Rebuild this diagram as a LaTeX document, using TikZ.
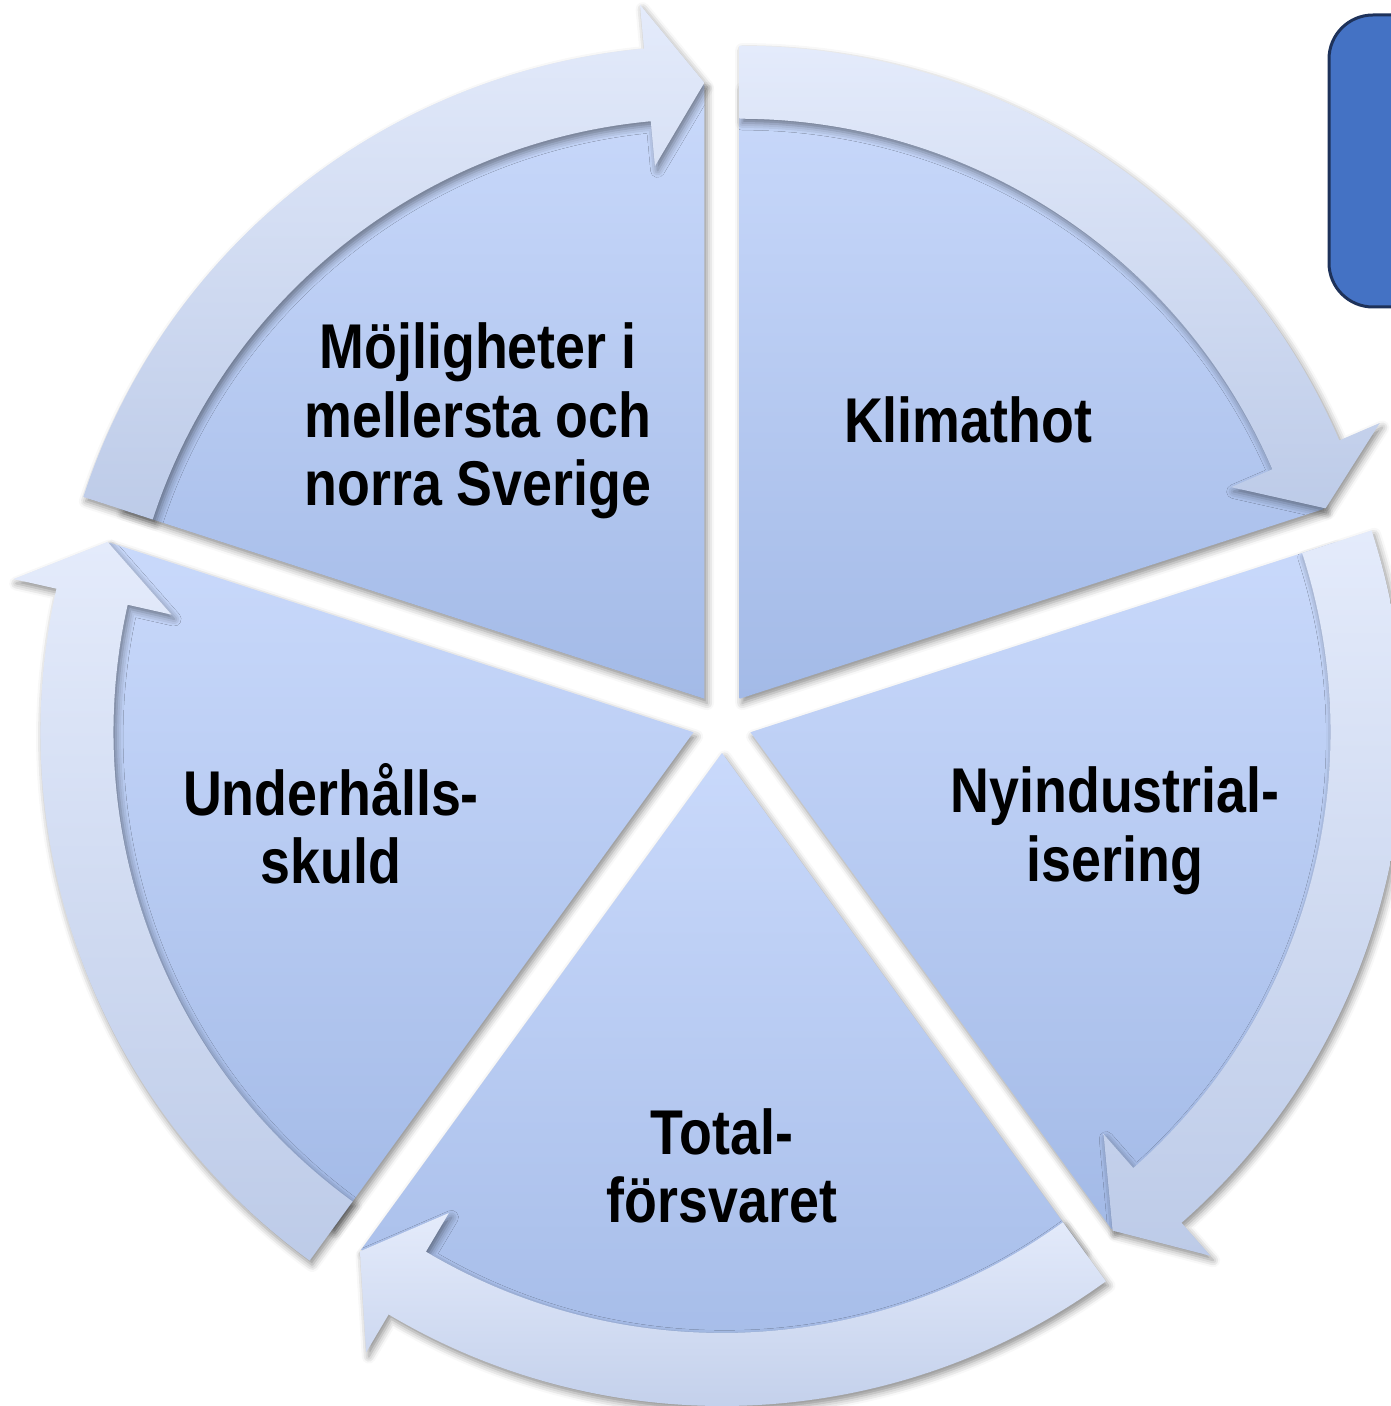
\documentclass[tikz,border=0pt]{standalone}
\usepackage{fontspec}
\setmainfont{Liberation Sans}[FakeStretch=0.85]
\usepackage{tikz}
\usepackage{xcolor}
\usetikzlibrary{shadows.blur}
\definecolor{PieTop}{RGB}{201,217,251}
\definecolor{PieBottom}{RGB}{163,186,231}
\definecolor{ArrowTop}{RGB}{228,235,251}
\definecolor{ArrowBottom}{RGB}{189,203,232}
\definecolor{SideBlue}{RGB}{68,114,196}
\definecolor{SideLine}{RGB}{30,50,90}
\tikzset{%
	piepart/.style={draw=none, top color=PieTop, bottom color=PieBottom,
		blur shadow={shadow xshift=1.5pt, shadow yshift=-2.5pt, shadow blur radius=4pt, shadow opacity=45}},
	piearrow/.style={draw=none, top color=ArrowTop, bottom color=ArrowBottom,
		blur shadow={shadow xshift=1.5pt, shadow yshift=-2.5pt, shadow blur radius=4pt, shadow opacity=45}},
	cycletext/.style={font=\fontsize{36}{39}\selectfont\bfseries, text=black,
		text centered},
	sidebox/.style={fill=SideBlue, draw=SideLine, line width=1.7pt, rounded corners=25pt},
}
% one slice of the cycle with its arrow, #1 = middle angle
\newcommand{\cyclepart}[1]{%
	\begin{scope}[shift={(#1:30)}]
		\shade[piepart] (0,0) -- (#1+36:614) arc[start angle=#1+36, end angle=#1-36, radius=614] -- cycle;
		\shade[piearrow] (#1+36:580) arc[start angle=#1+36, end angle=#1-30.7, radius=580]
			-- (#1-30.7:535) -- (#1-36:616) -- (#1-30.7:697) -- (#1-30.7:653)
			arc[start angle=#1-30.7, end angle=#1+36, radius=653] -- cycle;
	\end{scope}}

\begin{document}
\begin{tikzpicture}[x=0.02cm, y=0.02cm,
    every text node part/.style={align=center}]

    \useasboundingbox (-722,-683) rectangle (668,723);

    \cyclepart{126}
    \cyclepart{54}
    \cyclepart{-18}
    \cyclepart{-90}
    \cyclepart{198}

    \node [cycletext] (Mojligheter) at (-244,302) {Möjligheter i\\mellersta och\\norra Sverige};
    \node [cycletext] (Klimathot) at (246,303) {Klimathot};
    \node [cycletext] (Nyindustri) at (393,-108) {Nyindustrial-\\isering};
    \node [cycletext] (Totalforsvar) at (0,-443) {Total-\\försvaret};
    \node [cycletext] (Underhall) at (-391,-101) {Underhålls-\\skuld};

    % box at the right edge
    \draw [sidebox] (607,416) rectangle (740,708);

\end{tikzpicture}
\end{document}
